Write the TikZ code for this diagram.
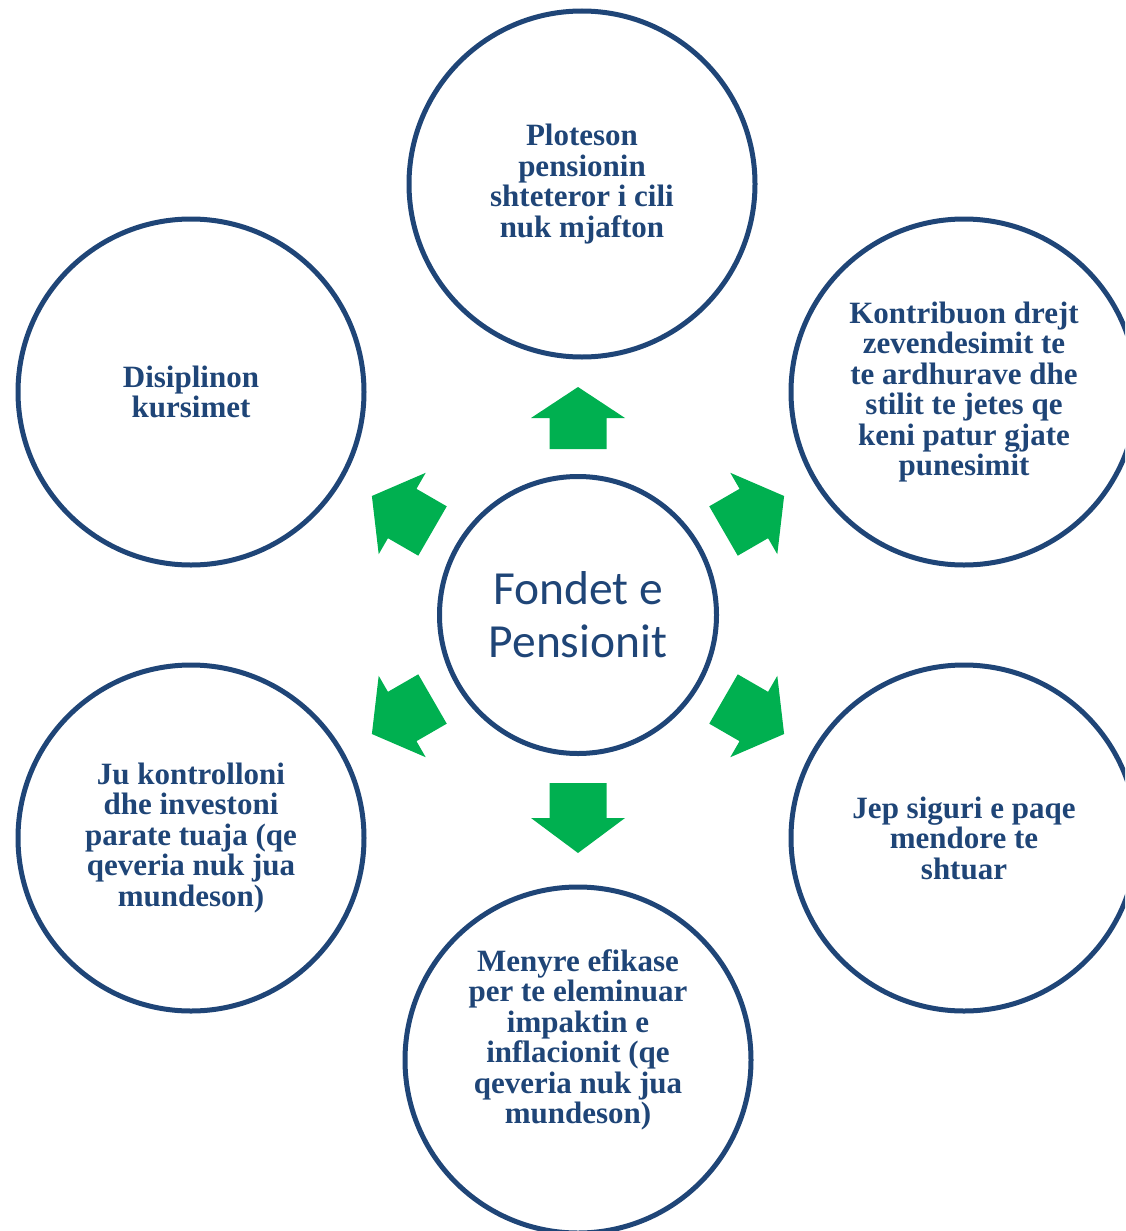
\documentclass[tikz,border=0pt]{standalone}
\usepackage{fontspec}
\setmainfont{Liberation Serif}
\newfontfamily\calibrifont{Carlito}
\definecolor{navy}{HTML}{1F4577}
\definecolor{arrowgreen}{HTML}{00B050}
\begin{document}
\begin{tikzpicture}[x=1pt,y=-1pt,
	hub/.style={circle,draw=navy,line width=5pt,minimum size=277pt,inner sep=0pt,text=navy,
		font=\calibrifont\fontsize{47.5}{53}\selectfont,align=center},
	leaf/.style={circle,draw=navy,line width=5pt,minimum size=346pt,inner sep=0pt,text=navy,
		font=\bfseries\fontsize{31}{30.5}\selectfont,align=center},
	txt/.style={text=navy,font=\bfseries\fontsize{31}{30.5}\selectfont,align=center,inner sep=0pt}]
	\useasboundingbox (0,0) rectangle (1125,1231);
	\clip (0,0) rectangle (1125,1231);
	\node[hub] (fond) at (578,615) {Fondet e\\Pensionit};
	\node[leaf] (ploteson) at (582,184) {Ploteson\\pensionin\\shteteror i cili\\nuk mjafton};
	\node[leaf] (kontribuon) at (964,392) {Kontribuon drejt\\zevendesimit te\\te ardhurave dhe\\stilit te jetes qe\\keni patur gjate\\punesimit};
	\node[leaf] (siguri) at (964,838) {Jep siguri e paqe\\mendore te\\shtuar};
	\node[leaf] (inflacion) at (578,1060) {};
	\node[txt] (inflaciontxt) at ([yshift=20pt]inflacion.center) {Menyre efikase\\per te eleminuar\\impaktin e\\inflacionit (qe\\qeveria nuk jua\\mundeson)};
	\node[leaf] (kontroll) at (191,838) {Ju kontrolloni\\dhe investoni\\parate tuaja (qe\\qeveria nuk jua\\mundeson)};
	\node[leaf] (disiplin) at (191,392) {Disiplinon\\kursimet};
	\foreach \a/\r/\s in {90/166/31,30/168/35,-30/168/35,-90/168/35,-150/168/35,150/168/35}
	\fill[arrowgreen,shift={(fond.center)},rotate=\a] (\r,-28.5)--(\r+\s,-28.5)--(\r+\s,-47)--(\r+2*\s,0)--(\r+\s,47)--(\r+\s,28.5)--(\r,28.5)--cycle;
\end{tikzpicture}
\end{document}
